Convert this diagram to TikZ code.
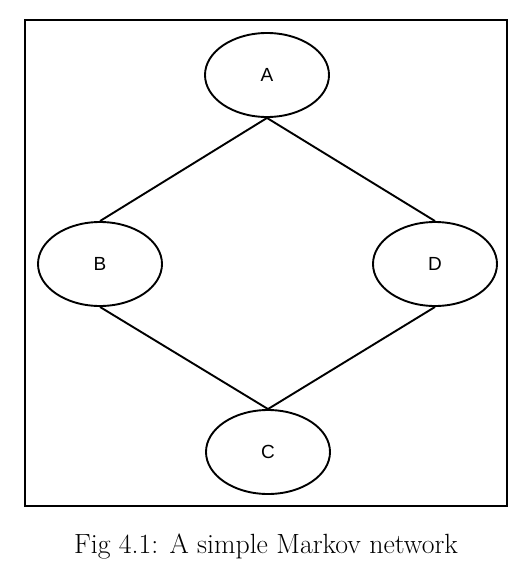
\documentclass[tikz,border=0pt]{standalone}
\usepackage{fontspec}
\newfontfamily\nodefont{Liberation Sans}
\usetikzlibrary{shapes.geometric}
\tikzset{var/.style={ellipse, draw, line width=1.9pt, minimum width=124pt, minimum height=84pt, inner sep=0pt, font=\nodefont\fontsize{19}{22}\selectfont},
         link/.style={line width=1.9pt}}

\begin{document}
\begin{tikzpicture}[x=1pt,y=-1pt]
   \useasboundingbox (0,0) rectangle (528,570);
   \draw[line width=1.5pt] (25,20) rectangle (507,506);
   \node[var] (A) at (267, 75) {A};
   \node[var] (B) at (100,264) {B};
   \node[var] (D) at (435,264) {D};
   \node[var] (C) at (268,452) {C};
   \draw[link] (A.south) -- (B.north);
   \draw[link] (A.south) -- (D.north);
   \draw[link] (B.south) -- (C.north);
   \draw[link] (D.south) -- (C.north);
   \node[anchor=base, font=\fontsize{27.8}{32}\selectfont] (cap) at (266,553) {Fig 4.1: A simple Markov network};
\end{tikzpicture}
\end{document}
